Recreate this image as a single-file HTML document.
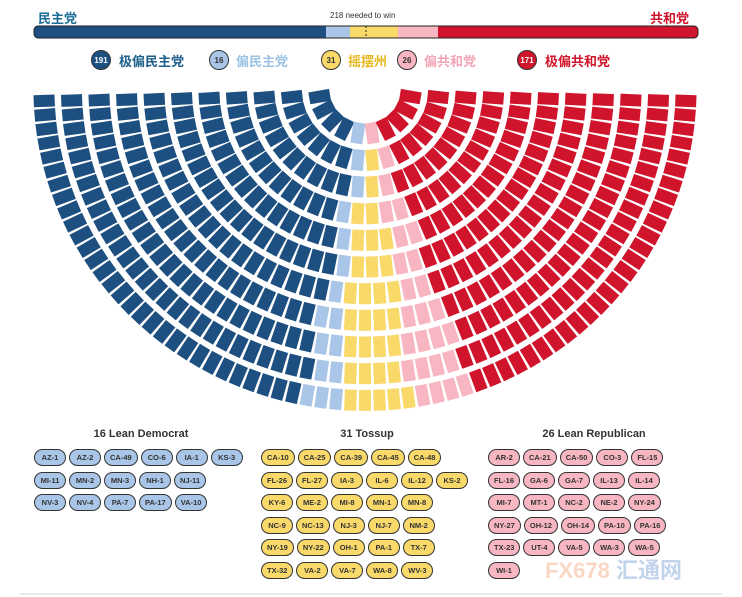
<!DOCTYPE html>
<html><head><meta charset="utf-8"><style>
*{margin:0;padding:0;box-sizing:border-box}
body{width:742px;height:597px;background:#fff;position:relative;overflow:hidden;font-family:"Liberation Sans","Noto Sans CJK SC",sans-serif}
.abs{position:absolute}
.grp{position:absolute;top:449px}
.row{display:flex;gap:3px;height:22.6px}
.p{height:17px;border:1px solid #333;border-radius:9px;font-size:7.5px;font-weight:bold;color:#333;display:flex;align-items:center;justify-content:center;padding:0 5px;min-width:32px}
.t{position:absolute;top:428px;font-size:11px;font-weight:bold;color:#333;text-align:center}
.lc{position:absolute;top:50px;width:20px;height:20px;border-radius:50%;border:1px solid #333;font-size:8px;font-weight:bold;display:flex;align-items:center;justify-content:center}
.lt{position:absolute;top:51px;font-size:13px;font-weight:bold}
</style></head><body>
<div class="abs" style="left:38px;top:8px;font-size:13px;font-weight:bold;color:#1d6d97">民主党</div>
<div class="abs" style="left:650px;top:8px;font-size:13px;font-weight:bold;color:#d0142c">共和党</div>
<div class="abs" style="left:330px;top:11px;font-size:8px;color:#333">218 needed to win</div>
<svg class="abs" style="left:0;top:0" width="742" height="597">
<defs><clipPath id="bc"><rect x="34" y="26" width="664" height="12" rx="4"/></clipPath></defs>
<g clip-path="url(#bc)">
<rect x="34" y="26" width="292" height="12" fill="#1d4f80"/>
<rect x="326" y="26" width="24" height="12" fill="#a9c6e8"/>
<rect x="350" y="26" width="48" height="12" fill="#f9d96a"/>
<rect x="398" y="26" width="40" height="12" fill="#f7b6c2"/>
<rect x="438" y="26" width="260" height="12" fill="#d0142c"/>
</g>
<rect x="34" y="26" width="664" height="12" rx="4" fill="none" stroke="#222" stroke-width="1"/>
<line x1="366" y1="26" x2="366" y2="38" stroke="#222" stroke-dasharray="2,2"/>
<g id="seats"></g>
<line x1="20" y1="594" x2="722" y2="594" stroke="#e6e8ea" stroke-width="2"/>
</svg>
<div class="lc" style="left:91px;background:#1d4f80;color:#fff">191</div><div class="lt" style="left:119px;color:#1d5f8a">极偏民主党</div>
<div class="lc" style="left:209px;background:#a9c6e8;color:#333">16</div><div class="lt" style="left:236px;color:#9cc3e3">偏民主党</div>
<div class="lc" style="left:321px;background:#f9d96a;color:#333">31</div><div class="lt" style="left:348px;color:#e8b820">摇摆州</div>
<div class="lc" style="left:397px;background:#f7b6c2;color:#333">26</div><div class="lt" style="left:424px;color:#f2a5b5">偏共和党</div>
<div class="lc" style="left:517px;background:#d0142c;color:#fff">171</div><div class="lt" style="left:545px;color:#d0142c">极偏共和党</div>

<div class="t" style="left:34px;width:214px">16 Lean Democrat</div>
<div class="t" style="left:260px;width:214px">31 Tossup</div>
<div class="t" style="left:487px;width:214px">26 Lean Republican</div>
<div class="grp" id="g1" style="left:34px"></div>
<div class="grp" id="g2" style="left:261px"></div>
<div class="grp" id="g3" style="left:488px"></div>
<div class="abs" style="left:545px;top:553px;font-size:22px;font-weight:bold;color:rgba(240,140,90,0.35)">FX678 <span style="color:rgba(80,130,200,0.35)">汇通网</span></div>
<script>
var rows=[["AZ-1","AZ-2","CA-49","CO-6","IA-1","KS-3"],["MI-11","MN-2","MN-3","NH-1","NJ-11"],["NV-3","NV-4","PA-7","PA-17","VA-10"]];
var t=[["CA-10","CA-25","CA-39","CA-45","CA-48"],["FL-26","FL-27","IA-3","IL-6","IL-12","KS-2"],["KY-6","ME-2","MI-8","MN-1","MN-8"],["NC-9","NC-13","NJ-3","NJ-7","NM-2"],["NY-19","NY-22","OH-1","PA-1","TX-7"],["TX-32","VA-2","VA-7","WA-8","WV-3"]];
var r=[["AR-2","CA-21","CA-50","CO-3","FL-15"],["FL-16","GA-6","GA-7","IL-13","IL-14"],["MI-7","MT-1","NC-2","NE-2","NY-24"],["NY-27","OH-12","OH-14","PA-10","PA-16"],["TX-23","UT-4","VA-5","WA-3","WA-5"],["WI-1"]];
function fill(id,data,col){var g=document.getElementById(id);data.forEach(function(row){var rw=document.createElement('div');rw.className='row';row.forEach(function(s){var d=document.createElement('div');d.className='p';d.style.background=col;d.textContent=s;rw.appendChild(d)});g.appendChild(rw);});}
fill('g1',rows,'#a9c6e8');fill('g2',t,'#f9d96a');fill('g3',r,'#f7b6c2');
var cx=365,cy=89,N=11,r0=46,r1=321,total=435,seats=[];
var radii=[],sum=0;for(var i=0;i<N;i++){var rr=r0+(r1-r0)*i/(N-1);radii.push(rr);sum+=rr;}
var counts=radii.map(function(x){return Math.round(total*x/sum)});
var diff=total-counts.reduce(function(a,b){return a+b},0);counts[N-1]+=diff;
for(var i=0;i<N;i++){var n=counts[i];for(var j=0;j<n;j++){var a=Math.PI*(1-(j+0.5)/n)*0.99+Math.PI*0.005;seats.push({r:radii[i],a:a});}}
seats.sort(function(p,q){return q.a-p.a});
var cols=[[191,"#1d4f80"],[16,"#a9c6e8"],[31,"#f9d96a"],[26,"#f7b6c2"],[171,"#d0142c"]];
var h='',k=0;cols.forEach(function(c){for(var m=0;m<c[0];m++){var s=seats[k++];var x=cx+s.r*Math.cos(s.a),y=cy+s.r*Math.sin(s.a)*0.97;var deg=s.a*180/Math.PI;
h+='<rect x="-10.5" y="-6" width="21" height="12" fill="'+c[1]+'" transform="translate('+x.toFixed(1)+','+y.toFixed(1)+') rotate('+deg.toFixed(1)+')"/>';}});
document.getElementById('seats').innerHTML=h;
</script>
</body></html>
